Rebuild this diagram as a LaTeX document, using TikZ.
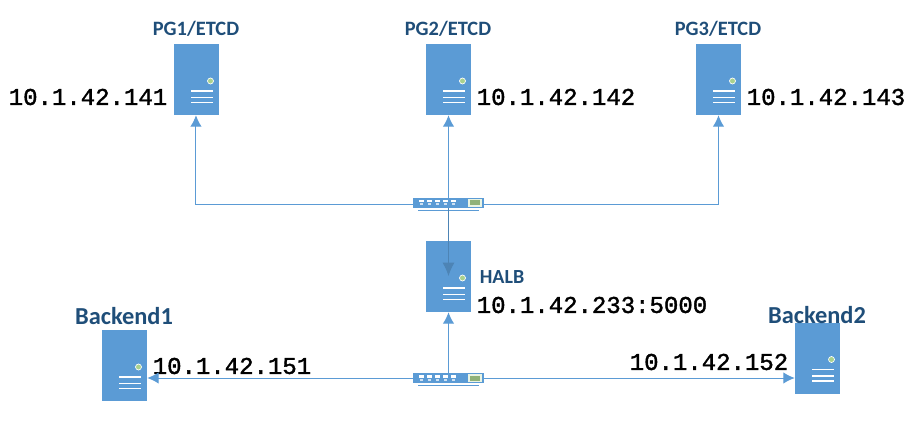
\documentclass[tikz,border=0pt]{standalone}
\usepackage{fontspec}
\setmainfont{Carlito}
\newfontfamily\ipfont[FakeBold=1.6]{Liberation Mono}
\usetikzlibrary{arrows.meta}
\definecolor{srvblue}{HTML}{5B9BD5}
\definecolor{txtblue}{HTML}{1F4E79}
\definecolor{dotgreen}{HTML}{A9D18E}
\tikzset{
    server/.style={fill=srvblue,minimum width=33.75pt,minimum height=53.25pt,inner sep=0pt},
    switchbox/.style={fill=srvblue,minimum width=53.25pt,minimum height=7.5pt,inner sep=0pt},
    wire/.style={srvblue,line width=.75pt},
    tip/.style={wire,-{Latex[length=8.5pt,width=8.5pt]}},
    ip/.style={inner sep=0pt,font=\ipfont\fontsize{18}{20}\selectfont},
    title/.style={inner sep=0pt,txtblue,font=\bfseries\fontsize{15.3}{17}\selectfont},
    halbtitle/.style={inner sep=0pt,txtblue,font=\bfseries\fontsize{15}{17}\selectfont},
    bigtitle/.style={inner sep=0pt,txtblue,font=\bfseries\fontsize{18.3}{20}\selectfont}
}
\begin{document}
\begin{tikzpicture}[x=.75pt,y=-.75pt]
    \useasboundingbox (0,0) rectangle (918,424);

    \foreach \n/\x/\y in {pga/196.5/79.5,pgb/448.5/79.5,pgc/718.5/79.5,halb/448.5/276.5,backa/124.5/365.5,backb/817.5/358}
    {
        \node[server] (\n) at (\x,\y) {};
        \fill[dotgreen,draw=white,line width=.5pt] (\x+14,\y+1.5) circle (3);
        \foreach \d in {11.5,18,23}
            {\draw[white,line width=1.1pt] (\x-5.5,\y+\d) -- (\x+16.5,\y+\d);}
    }

    \foreach \n/\y in {swa/203,swb/378}
    {
        \node[switchbox] (\n) at (448.5,\y) {};
        \foreach \p in {0,...,4}
        {
            \fill[white] (418.5+8*\p,\y-3) rectangle ++(5.5,2.5);
            \fill[white!70!srvblue] (419.5+8*\p,\y+.5) rectangle ++(3.5,2);
        }
        \fill[white!75!dotgreen] (468,\y-4) rectangle ++(14,8);
        \fill[dotgreen!85!black] (470,\y-2.5) rectangle ++(10,5);
        \draw[wire] (418,\y+7.5) -- (479,\y+7.5);
    }

    \node[title] (pgatxt) at (196,29) {PG1/ETCD};
    \node[title] (pgbtxt) at (448,29) {PG2/ETCD};
    \node[title] (pgctxt) at (718,29) {PG3/ETCD};
    \node[halbtitle] (halbtxt) at (502,277) {HALB};
    \node[bigtitle] (backatxt) at (124,316) {Backend1};
    \node[bigtitle] (backbtxt) at (817,315) {Backend2};

    \node[ip] (pgaip) at (88,97) {10.1.42.141};
    \node[ip] (pgbip) at (556,97) {10.1.42.142};
    \node[ip] (pgcip) at (826,97) {10.1.42.143};
    \node[ip] (halbip) at (592,305) {10.1.42.233:5000};
    \node[ip] (backaip) at (232,366) {10.1.42.151};
    \node[ip] (backbip) at (709,362) {10.1.42.152};

    \coordinate (halbin) at (448.5,276);

    \draw[tip] ([yshift=-1.5pt]swa.west) -| ([xshift=-.4pt]pga.south);
    \draw[tip] ([yshift=-1.5pt]swa.east) -| (pgc.south);
    \draw[tip] (swa.north) -- (pgb.south);
    \draw[wire,-{Latex[length=10pt,width=9pt]},draw=srvblue!85!black,fill=srvblue!85!black] (swa.south) -- (halbin);
    \draw[tip] (swb.north) -- (halb.south);
    \draw[tip] (swb.west) -- (swb.west -| backa.east);
    \draw[tip] (swb.east) -- (swb.east -| backb.west);
\end{tikzpicture}
\end{document}
